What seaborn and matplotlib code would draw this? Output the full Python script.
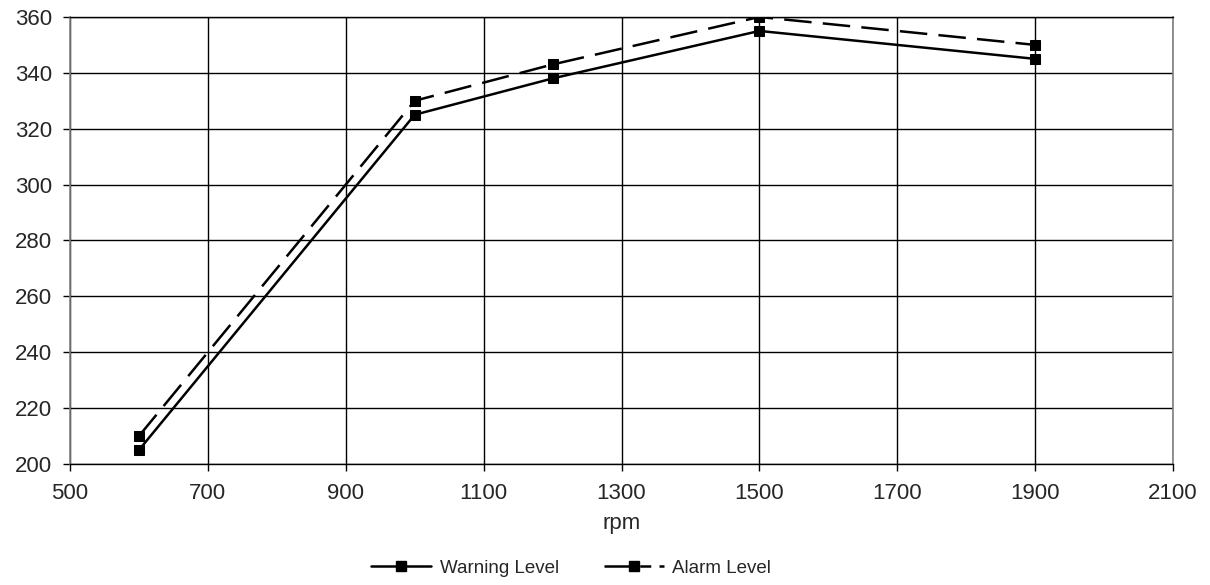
import seaborn as sns
import matplotlib.pyplot as plt
from matplotlib.lines import Line2D
import pandas as pd

rpm = [600, 1000, 1200, 1500, 1900]
warning_level = [205, 325, 338, 355, 345]
alarm_level = [210, 330, 343, 360, 350]
series_names = ["Warning Level", "Alarm Level"]

sns.set_theme(style="white")
plt.rcParams["font.family"] = ["Liberation Sans", "DejaVu Sans"]

df = pd.DataFrame({
    "rpm": rpm * 2,
    "value": warning_level + alarm_level,
    "series": [series_names[0]] * len(rpm) + [series_names[1]] * len(rpm),
})

fig = plt.figure(figsize=(12.1, 5.85), dpi=100)
ax = fig.add_axes([0.0579, 0.207, 0.9115, 0.764])

sns.lineplot(data=df, x="rpm", y="value", hue="series", style="series",
             palette=["black", "black"],
             dashes={series_names[0]: "", series_names[1]: (11, 4.5)},
             markers={series_names[0]: "s", series_names[1]: "s"}, markersize=7,
             markeredgecolor="black", linewidth=1.8, ax=ax, legend=False)

ax.set_xlim(500, 2100)
ax.set_ylim(200, 360)
ax.set_xticks(range(500, 2101, 200))
ax.set_yticks(range(200, 361, 20))
ax.grid(True, color="black", linewidth=1)
ax.set_axisbelow(True)
for side in ["top", "bottom"]:
    ax.spines[side].set_color("black")
    ax.spines[side].set_linewidth(1)
for side in ["left", "right"]:
    ax.spines[side].set_color("#808080")
    ax.spines[side].set_linewidth(1.2)
ax.tick_params(axis="both", labelsize=16, length=5, color="black", width=1,
               direction="out", bottom=True, left=True)
ax.tick_params(axis="x", pad=9)
ax.tick_params(axis="y", pad=8)
ax.set_xlabel("rpm", fontsize=16, labelpad=6)
ax.set_ylabel("")

# legend: dash - marker - dash look for the alarm series
handles = [
    Line2D([], [], color="black", lw=1.8, marker="s", markersize=7),
    Line2D([], [], color="black", lw=1.8, marker="s", markersize=7,
           linestyle=(0, (11, 3.3, 4.4, 3.3))),
]
fig.legend(handles, series_names, loc="center", bbox_to_anchor=(0.472, 0.029),
           ncol=2, frameon=False, fontsize=13.5, handlelength=3.2, columnspacing=2.4,
           handletextpad=0.45)

fig.savefig("out.png", dpi=100)
